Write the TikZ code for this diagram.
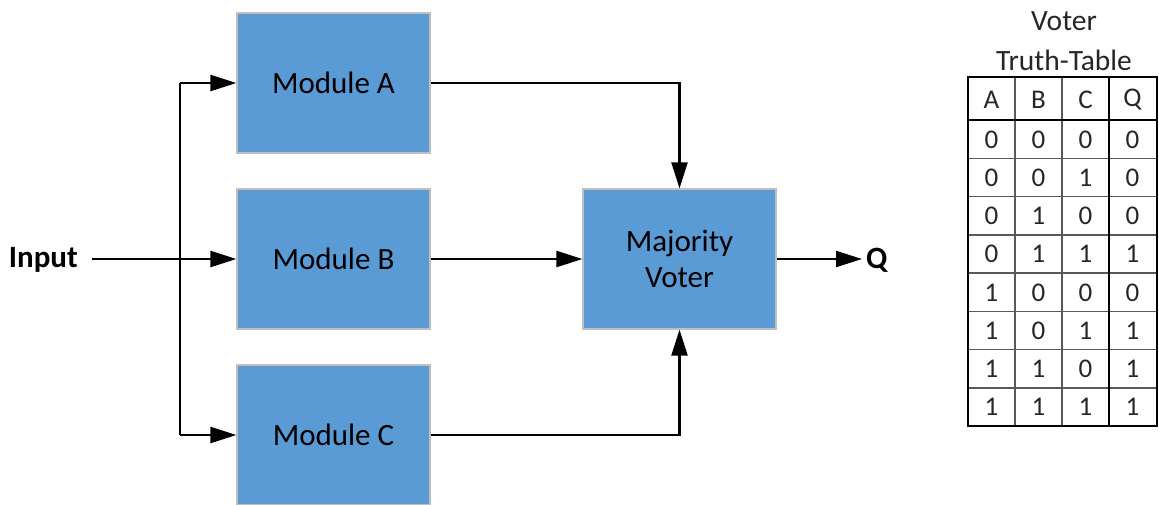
\documentclass[tikz,border=0pt]{standalone}
\usepackage{fontspec}
\setmainfont{Carlito}
\usetikzlibrary{arrows.meta}
\definecolor{boxblue}{HTML}{5B9BD5}
\definecolor{boxedge}{HTML}{BFBFBF}
\begin{document}
\begin{tikzpicture}[x=1pt,y=-1pt,
  modbox/.style={draw=boxedge,line width=1.2pt,fill=boxblue,minimum width=193pt,minimum height=140pt,
    align=center,font=\fontsize{31}{36}\selectfont},
  arr/.style={line width=2.2pt,-{Triangle[length=26pt,width=16pt]}},
  wire/.style={line width=2.2pt},
  lbl/.style={font=\fontsize{31}{34}\selectfont\bfseries,inner sep=0pt},
  cell/.style={font=\fontsize{27}{30}\selectfont,inner sep=0pt,text=black!85},
  thin grid/.style={line width=1.5pt,draw=black!65},
  thick grid/.style={line width=2.8pt}]
\useasboundingbox (0,0) rectangle (1159,504);

% processing modules and the voter
\node[modbox] (A) at (333.5,83) {Module A};
\node[modbox] (B) at (333.5,259) {Module B};
\node[modbox] (C) at (333.5,435) {Module C};
\node[modbox] (V) at (679.5,259) {Majority\\Voter};

% input and output labels
\node[lbl,anchor=east] (in) at (78,260) {Input};
\node[lbl,anchor=west] (Q) at (866,260) {Q};

% fan-out of the input to the three modules
\coordinate (sA) at (180,83);
\coordinate (sC) at (180,435);
\draw[wire] (sA) -- (sC);
\draw[arr] ([xshift=14pt]in.east |- B.west) -- (B.west);
\draw[arr] (sA) -- (A.west);
\draw[arr] (sC) -- (C.west);

% module outputs into the voter
\draw[arr] (A.east) -| (V.north);
\draw[arr] (B.east) -- (V.west);
\draw[arr] (C.east) -| (V.south);
\draw[arr] (V.east) -- ([xshift=-4pt]Q.west |- V.east);

% truth table title
\node[cell,font=\fontsize{29.5}{32}\selectfont] (t1) at (1064,21) {Voter};
\node[cell,font=\fontsize{29.5}{32}\selectfont] (t2) at (1064,60) {Truth-Table};

% truth table grid
\foreach \x in {1015,1062} \draw[thin grid] (\x,77) -- (\x,426);
\foreach \i in {1,...,7} \draw[thin grid] (968,120+38.25*\i) -- (1157,120+38.25*\i);
\draw[thick grid] (1109,77) -- (1109,426);
\draw[thick grid] (968,120) -- (1157,120);
\draw[thick grid] (968,77) rectangle (1157,426);

% header row
\foreach \h [count=\c from 0] in {A,B,C,Q}
  \node[cell] (h\c) at (991.5+47*\c,100) {\h};

% data rows
\foreach \a/\b/\cc/\q [count=\r from 0] in
  {0/0/0/0,0/0/1/0,0/1/0/0,0/1/1/1,1/0/0/0,1/0/1/1,1/1/0/1,1/1/1/1}{
  \node[cell] (r\r a) at (991.5,139.5+38.25*\r) {\a};
  \node[cell] (r\r b) at (1038.5,139.5+38.25*\r) {\b};
  \node[cell] (r\r c) at (1085.5,139.5+38.25*\r) {\cc};
  \node[cell] (r\r q) at (1132.5,139.5+38.25*\r) {\q};
}
\end{tikzpicture}
\end{document}
